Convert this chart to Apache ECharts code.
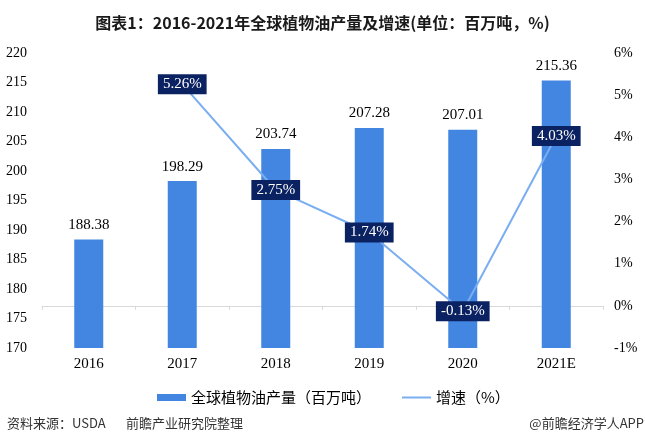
<!DOCTYPE html>
<html>
<head>
<meta charset="utf-8">
<script src="https://cdn.jsdelivr.net/npm/echarts@6/dist/echarts.min.js"></script>
<style>
html,body{margin:0;padding:0;background:#fff;}
#chart{width:645px;height:446px;}
</style>
</head>
<body>
<div id="chart"></div>
<script>
var categories = ['2016', '2017', '2018', '2019', '2020', '2021E'];
var production = [188.38, 198.29, 203.74, 207.28, 207.01, 215.36];
var growth = [null, 5.26, 2.75, 1.74, -0.13, 4.03];
var seriesNames = ['全球植物油产量（百万吨）', '增速（%）'];
var titleText = '图表1：2016-2021年全球植物油产量及增速(单位：百万吨，%)';
var sourceText = '资料来源：USDA';
var sourceText2 = '前瞻产业研究院整理';
var brandText = '@前瞻经济学人APP';

var serif = 'Liberation Serif';
var sans = 'Noto Sans CJK SC';

var chart = echarts.init(document.getElementById('chart'));
chart.setOption({
  animation: false,
  backgroundColor: '#fff',
  title: {
    text: titleText,
    left: 'center',
    top: 10,
    textStyle: {fontSize: 16, fontWeight: 'bold', fontFamily: sans, color: '#1a1a1a'}
  },
  legend: {
    left: 152,
    top: 385,
    itemWidth: 29,
    itemHeight: 7,
    itemGap: 30,
    textStyle: {fontSize: 15, fontFamily: sans, color: '#000'},
    data: [
      {name: seriesNames[0], icon: 'rect'},
      {name: seriesNames[1], itemStyle: {opacity: 0}}
    ]
  },
  grid: {left: 42, right: 42, top: 53, bottom: 98},
  xAxis: {
    type: 'category',
    data: categories,
    axisLine: {lineStyle: {color: '#d9d9d9', width: 1}},
    axisTick: {show: true, length: 4, lineStyle: {color: '#d9d9d9'}},
    axisLabel: {fontSize: 15, fontFamily: serif, color: '#000', margin: 9}
  },
  yAxis: [{
    type: 'value', min: 170, max: 220, interval: 5,
    axisLine: {show: false}, axisTick: {show: false}, splitLine: {show: false},
    axisLabel: {fontSize: 14, fontFamily: serif, color: '#000', margin: 15}
  }, {
    type: 'value', min: -1, max: 6, interval: 1,
    axisLine: {show: false}, axisTick: {show: false}, splitLine: {show: false},
    axisLabel: {fontSize: 14, fontFamily: serif, color: '#000', margin: 11, formatter: '{value}%'}
  }],
  series: [{
    name: seriesNames[0],
    type: 'bar',
    data: production,
    barWidth: 29,
    itemStyle: {color: '#4286e1'},
    label: {
      show: true, position: 'top', distance: 7,
      fontSize: 15, fontFamily: serif, color: '#000',
      formatter: function (p) { return p.value.toFixed(2); }
    }
  }, {
    name: seriesNames[1],
    type: 'line',
    yAxisIndex: 1,
    data: growth,
    symbol: 'circle',
    symbolSize: 2,
    itemStyle: {color: '#7aaef0'},
    lineStyle: {color: '#7aaef0', width: 2},
    label: {
      show: true, position: 'inside',
      fontSize: 15, fontFamily: serif, color: '#fff',
      backgroundColor: '#0b2262',
      padding: [3, 5, 2, 5],
      formatter: function (p) { return p.value.toFixed(2) + '%'; }
    }
  }],
  graphic: [{
    type: 'text', left: 7, top: 417,
    style: {text: sourceText, fontSize: 13, fontFamily: sans, fill: '#333'}
  }, {
    type: 'text', left: 126, top: 417,
    style: {text: sourceText2, fontSize: 13, fontFamily: sans, fill: '#333'}
  }, {
    type: 'text', right: 1, top: 417,
    style: {text: brandText, fontSize: 13, fontFamily: sans, fill: '#333'}
  }]
});
</script>
</body>
</html>
